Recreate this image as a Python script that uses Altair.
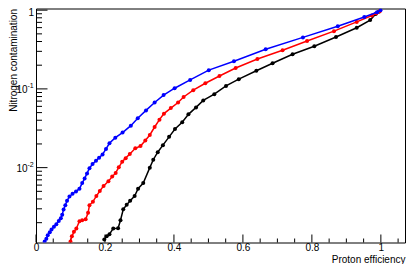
import altair as alt
import pandas as pd

# ---- data ----
blue_eff = [0.025, 0.030, 0.034, 0.040, 0.045, 0.052, 0.059, 0.066, 0.072, 0.076,
            0.080, 0.085, 0.090, 0.097, 0.106, 0.116, 0.126, 0.134, 0.141, 0.148,
            0.155, 0.164, 0.174, 0.183, 0.193, 0.203, 0.213, 0.230, 0.251, 0.275,
            0.295, 0.319, 0.344, 0.370, 0.402, 0.447, 0.501, 0.574, 0.666, 0.774,
            0.875, 0.952, 0.989, 0.999]
blue_cont = [0.00115, 0.00125, 0.00138, 0.00151, 0.00164, 0.00178, 0.00191, 0.00210, 0.00227, 0.00253,
             0.00294, 0.00332, 0.00380, 0.00430, 0.00466, 0.00499, 0.00541, 0.00636, 0.00729, 0.00845,
             0.00982, 0.0111, 0.0122, 0.0134, 0.0147, 0.0173, 0.0204, 0.0240, 0.0279, 0.0341,
             0.0424, 0.0533, 0.0671, 0.0834, 0.102, 0.130, 0.173, 0.225, 0.319, 0.451,
             0.624, 0.819, 0.942, 0.995]

red_eff = [0.100, 0.104, 0.110, 0.117, 0.126, 0.134, 0.144, 0.151, 0.155, 0.165,
           0.175, 0.185, 0.196, 0.210, 0.221, 0.231, 0.240, 0.250, 0.260, 0.272,
           0.288, 0.303, 0.317, 0.330, 0.344, 0.358, 0.371, 0.391, 0.412, 0.428,
           0.456, 0.491, 0.532, 0.579, 0.642, 0.715, 0.786, 0.864, 0.930, 0.974,
           0.987, 0.997]
red_cont = [0.00115, 0.00134, 0.00153, 0.00169, 0.00209, 0.00215, 0.00221, 0.00267, 0.00332, 0.00370,
            0.00435, 0.00505, 0.00586, 0.00671, 0.00769, 0.00857, 0.0101, 0.0119, 0.0132, 0.0149,
            0.0176, 0.0188, 0.0221, 0.0260, 0.0328, 0.0407, 0.0485, 0.0571, 0.0671, 0.0790,
            0.0963, 0.118, 0.146, 0.184, 0.240, 0.310, 0.405, 0.541, 0.709, 0.857,
            0.912, 0.968]

black_eff = [0.198, 0.205, 0.213, 0.224, 0.238, 0.245, 0.253, 0.263, 0.273, 0.286,
             0.296, 0.311, 0.330, 0.340, 0.353, 0.368, 0.386, 0.403, 0.424, 0.442,
             0.464, 0.485, 0.517, 0.551, 0.588, 0.639, 0.686, 0.744, 0.807, 0.870,
             0.930, 0.969, 0.985, 0.994]
black_cont = [0.00122, 0.00134, 0.00143, 0.00169, 0.00170, 0.00215, 0.00296, 0.00338, 0.00380, 0.00435,
              0.00541, 0.00636, 0.0100, 0.0126, 0.0157, 0.0193, 0.0246, 0.0309, 0.0377, 0.0475,
              0.0582, 0.0713, 0.0857, 0.109, 0.133, 0.170, 0.212, 0.275, 0.348, 0.456,
              0.598, 0.748, 0.893, 0.955]

# axis ticks / labels
x_major = [0.0, 0.2, 0.4, 0.6, 0.8, 1.0]
x_minor = [0.05, 0.1, 0.15, 0.25, 0.3, 0.35, 0.45, 0.5, 0.55, 0.65, 0.7, 0.75,
           0.85, 0.9, 0.95, 1.05]
y_major = [0.01, 0.1, 1.0]
y_minor = [0.002, 0.003, 0.004, 0.005, 0.006, 0.007, 0.008, 0.009,
           0.02, 0.03, 0.04, 0.05, 0.06, 0.07, 0.08, 0.09,
           0.2, 0.3, 0.4, 0.5, 0.6, 0.7, 0.8, 0.9]
y_label_plain = [1.0]
y_label_plain_text = ["1"]
y_label_pow = [0.1, 0.01]
y_label_base = ["10", "10"]
y_label_exp = ["-1", "-2"]

W, H = 369, 234
FONT = "Liberation Sans"

xs = alt.Scale(domain=[0, 1.07], nice=False, zero=False)
ys = alt.Scale(type="log", domain=[0.00112, 1.05], nice=False)

x_axis = alt.Axis(
    values=x_major,
    labelExpr="datum.value == 0 ? '0' : (datum.value == 1 ? '1' : format(datum.value, '.1f'))",
    ticks=False, domain=False, grid=False,
    labelFont=FONT, labelFontSize=10, labelColor="#000", labelPadding=0,
    labelBaseline="top", labelFlush=False,
    title="Proton efficiency", titleFont=FONT, titleFontSize=10,
    titleFontWeight="normal", titleColor="#000", titleAlign="right",
    titleX=W, titleY=19.5, titleBaseline="alphabetic", titleAnchor="end",
)
y_axis = alt.Axis(
    labels=False, ticks=False, domain=False, grid=False,
    title="Nitrogen contamination", titleFont=FONT, titleFontSize=10,
    titleFontWeight="normal", titleColor="#000", titleAngle=270,
    titleAlign="right", titleBaseline="top", titleX=-27.5, titleY=0,
)

X = alt.X("eff:Q", scale=xs, axis=x_axis)
Y = alt.Y("cont:Q", scale=ys, axis=y_axis)


def curve(xv, yv, color):
    df = pd.DataFrame({"eff": xv, "cont": yv})
    return alt.Chart(df).mark_line(
        color=color, strokeWidth=1.5, clip=True,
        point=alt.OverlayMarkDef(color=color, filled=True, size=16, opacity=1),
    ).encode(x=X, y=Y)


def xticks(vals, length):
    return alt.Chart(pd.DataFrame({"eff": vals})).mark_rule(color="#000", strokeWidth=1).encode(
        x=X, y=alt.value(H), y2=alt.value(H - length),
    )


def yticks(vals, length):
    return alt.Chart(pd.DataFrame({"cont": vals})).mark_rule(color="#000", strokeWidth=1).encode(
        y=Y, x=alt.value(0), x2=alt.value(length),
    )


lab_plain = alt.Chart(pd.DataFrame({"cont": y_label_plain, "t": y_label_plain_text})).mark_text(
    align="right", baseline="middle", font=FONT, fontSize=10, color="#000", dy=2.5
).encode(y=Y, x=alt.value(-2), text="t:N")

lab_base = alt.Chart(pd.DataFrame({"cont": y_label_pow, "t": y_label_base})).mark_text(
    align="right", baseline="middle", font=FONT, fontSize=10, color="#000", dy=1.5
).encode(y=Y, x=alt.value(-8.5), text="t:N")

lab_exp = alt.Chart(pd.DataFrame({"cont": y_label_pow, "t": y_label_exp})).mark_text(
    align="left", baseline="middle", font=FONT, fontSize=7, color="#000", dy=-2.5
).encode(y=Y, x=alt.value(-8.5), text="t:N")

chart = alt.layer(
    xticks(x_minor, 4), xticks(x_major, 8),
    yticks(y_minor, 6), yticks(y_major, 11.5),
    curve(black_eff, black_cont, "#000000"),
    curve(red_eff, red_cont, "#ff0000"),
    curve(blue_eff, blue_cont, "#0000ff"),
    lab_plain, lab_base, lab_exp,
).properties(
    width=W, height=H,
    padding={"left": 28, "top": 0.5, "right": 1, "bottom": 21.5},
    autosize=alt.AutoSizeParams(type="none"),
).configure_view(stroke="#000", strokeWidth=1)

chart.save("out.html", embed_options={"renderer": "svg", "actions": False})
